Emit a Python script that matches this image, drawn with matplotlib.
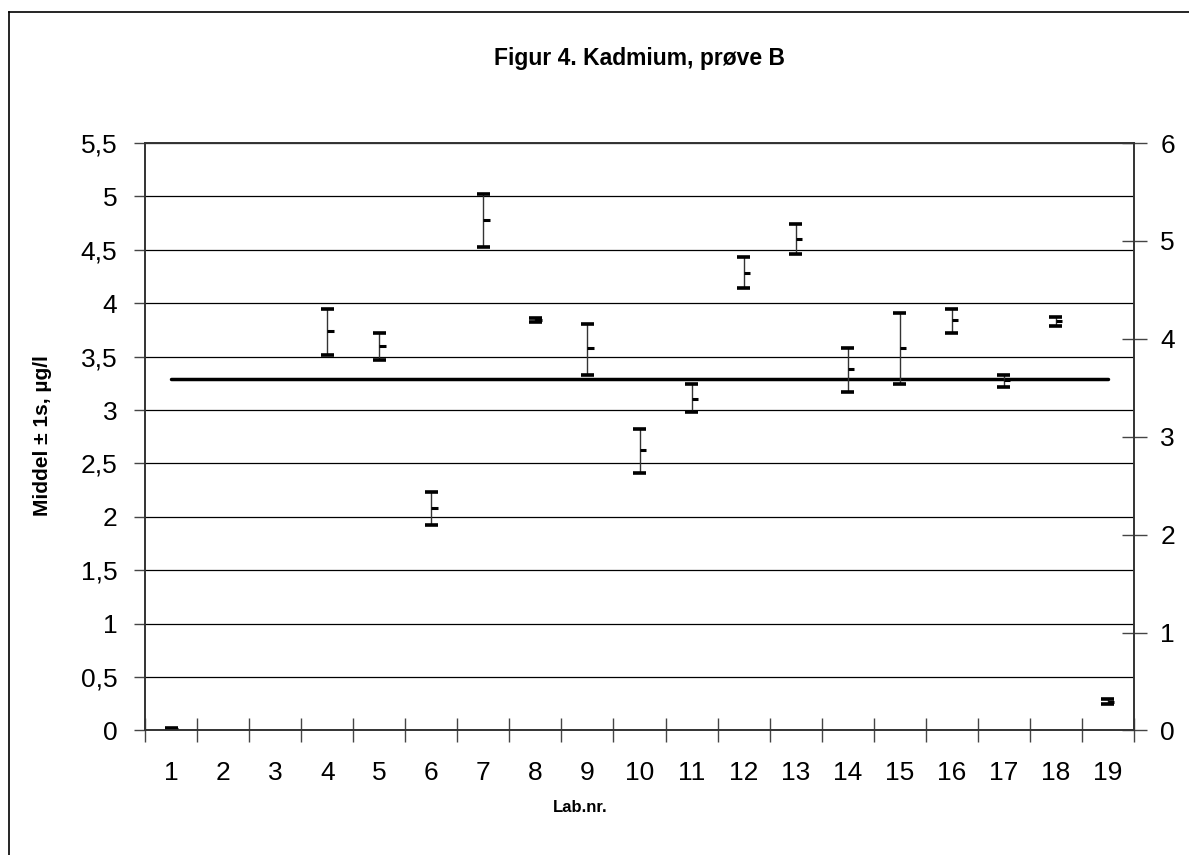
import numpy as np
import matplotlib.pyplot as plt
from matplotlib.lines import Line2D
from matplotlib.ticker import FuncFormatter, MultipleLocator

plt.rcParams['font.family'] = ['Liberation Sans', 'DejaVu Sans']

labs = np.arange(1, 20)
# middel +/- 1s per laboratorium (nan = ingen resultater)
high = np.array([0.02, np.nan, np.nan, 3.95, 3.72, 2.23, 5.02, 3.86, 3.81, 2.82,
                 3.24, 4.43, 4.74, 3.58, 3.91, 3.95, 3.33, 3.87, 0.29])
low = np.array([0.00, np.nan, np.nan, 3.52, 3.47, 1.92, 4.53, 3.82, 3.33, 2.41,
                2.98, 4.14, 4.46, 3.17, 3.24, 3.72, 3.22, 3.79, 0.25])
mid = np.array([0.01, np.nan, np.nan, 3.74, 3.60, 2.08, 4.78, 3.84, 3.58, 2.63,
                3.10, 4.28, 4.60, 3.38, 3.58, 3.84, 3.28, 3.83, 0.27])
ref_value = 3.29

fig = plt.figure(figsize=(11.89, 8.55), dpi=100)
ax = fig.add_axes([0.122, 0.1457, 0.8317, 0.687])

ok = ~np.isnan(mid)
x = labs[ok]
cap = 0.125
ax.vlines(x, low[ok], high[ok], color='#333333', lw=1.0, zorder=3)
ax.hlines(high[ok], x - cap, x + cap, color='black', lw=2.6, zorder=4)
ax.hlines(low[ok], x - cap, x + cap, color='black', lw=2.6, zorder=4)
ax.hlines(mid[ok], x, x + cap, color='black', lw=2.2, zorder=4)

# samlet middelværdi
ax.plot([labs[0], labs[-1]], [ref_value, ref_value], color='black', lw=2.5,
        solid_capstyle='round', zorder=2)

comma = FuncFormatter(lambda v, p: ('%g' % v).replace('.', ','))

ax.set_xlim(0.5, 19.5)
ax.set_ylim(0, 5.5)
ax.yaxis.set_major_locator(MultipleLocator(0.5))
ax.yaxis.set_major_formatter(comma)
ax.set_xticks(labs)
ax.set_xticklabels([str(i) for i in labs])
ax.set_xticks(np.arange(0.5, 20, 1), minor=True)
ax.tick_params(axis='x', which='major', length=0, pad=22, labelsize=19)
ax.tick_params(axis='x', which='minor', direction='inout', length=17, width=1, color='#444444')
ax.tick_params(axis='y', direction='out', length=8, width=1, pad=12, labelsize=19, color='#444444')
ax.grid(axis='y', color='black', lw=0.9)
ax.set_axisbelow(True)
for s in ax.spines.values():
    s.set_color('#333333')
    s.set_linewidth(1.2)

ax2 = ax.twinx()
ax2.set_ylim(0, 6)
ax2.set_yticks(np.arange(0, 7, 1))
ax2.yaxis.set_major_formatter(comma)
ax2.tick_params(axis='y', direction='inout', length=18, width=1, pad=10, labelsize=19, color='#444444')
for s in ax2.spines.values():
    s.set_color('#333333')
    s.set_linewidth(1.2)

fig.text(0.538, 0.932, 'Figur 4. Kadmium, prøve B', ha='center', va='center',
         fontsize=16.5, fontweight='bold')
fig.text(0.036, 0.49, 'Middel ± 1s, µg/l', rotation=90, ha='center', va='center',
         fontsize=15, fontweight='bold')
fig.text(0.488, 0.055, 'Lab.nr.', ha='center', va='center', fontsize=12, fontweight='bold')

# ramme rundt om diagrammet
bx, by = 9 / 1189, 1 - 11.7 / 855
fig.add_artist(Line2D([bx, bx], [0, by], transform=fig.transFigure, color='black', lw=1.2))
fig.add_artist(Line2D([bx, 1], [by, by], transform=fig.transFigure, color='black', lw=1.2))

fig.savefig('out.png', dpi=100)
